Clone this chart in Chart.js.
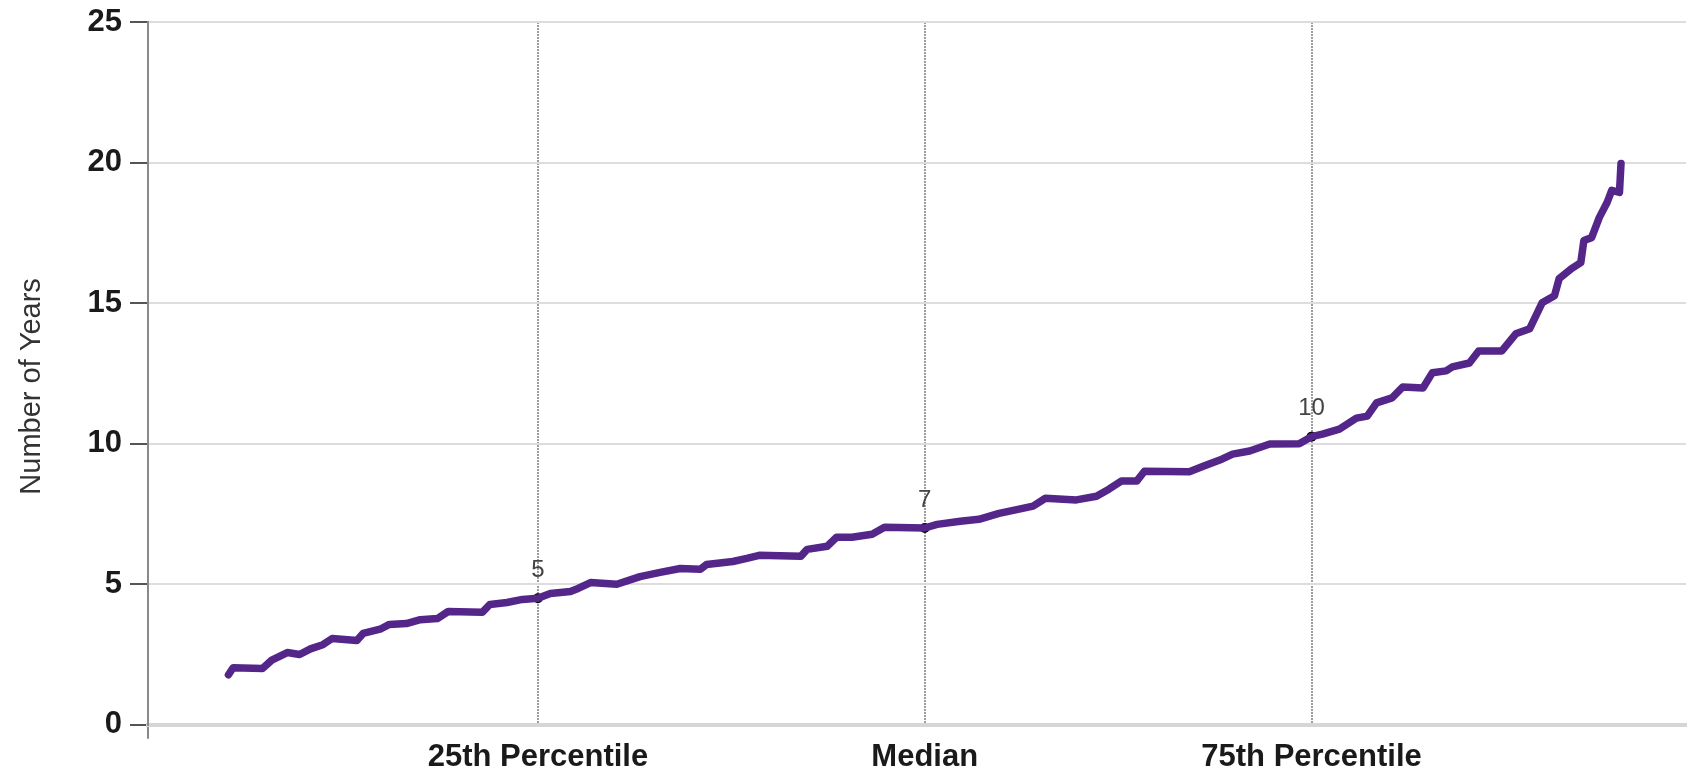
<!DOCTYPE html>
<html>
<head>
<meta charset="utf-8">
<script src="https://cdn.jsdelivr.net/npm/chart.js@4.4.1/dist/chart.umd.min.js"></script>
<style>
  html, body { margin: 0; padding: 0; background: #ffffff; }
  canvas { display: block; }
</style>
</head>
<body>
<canvas id="c" width="1691" height="775"></canvas>
<script>
// Percentile rank (x) and number of years (y)
const pctRank = [5.0, 5.3, 7.2, 7.8, 8.8, 9.6, 10.3, 11.1, 11.7, 13.3, 13.7, 14.8, 15.4, 16.5, 17.4, 18.5, 19.2, 21.4, 21.9, 23.0, 24.0, 25.0,
  25.8, 27.1, 27.6, 28.4, 30.1, 31.6, 32.9, 34.2, 35.5, 35.9, 37.6, 38.5, 39.3, 42.0, 42.4, 43.7, 44.3, 45.3, 46.6, 47.4, 50.0,
  50.8, 52.3, 53.5, 54.8, 56.1, 57.0, 57.8, 59.8, 61.1, 61.9, 62.7, 63.7, 64.2, 67.1, 68.0, 69.2, 69.9, 71.0, 72.3, 74.2, 75.0,
  75.7, 76.8, 77.9, 78.6, 79.2, 80.2, 80.9, 82.2, 82.8, 83.7, 84.1, 85.2, 85.8, 87.3, 88.2, 89.1, 89.9, 90.7, 91.0, 91.8, 92.4,
  92.6, 93.1, 93.6, 94.1, 94.4, 94.9, 95.0];
const years = [1.78, 2.03, 2.0, 2.3, 2.57, 2.5, 2.7, 2.85, 3.07, 3.0, 3.25, 3.4, 3.57, 3.6, 3.74, 3.78, 4.03, 4.0, 4.28, 4.35, 4.46, 4.5,
  4.67, 4.74, 4.85, 5.06, 5.0, 5.27, 5.42, 5.56, 5.53, 5.7, 5.81, 5.92, 6.03, 6.0, 6.24, 6.35, 6.67, 6.67, 6.78, 7.03, 7.0,
  7.13, 7.24, 7.31, 7.52, 7.67, 7.78, 8.06, 8.0, 8.13, 8.38, 8.67, 8.67, 9.02, 9.0, 9.2, 9.45, 9.63, 9.74, 9.99, 10.0, 10.25,
  10.34, 10.52, 10.91, 10.98, 11.45, 11.63, 12.02, 11.98, 12.52, 12.59, 12.73, 12.87, 13.3, 13.3, 13.91, 14.09, 15.01, 15.26, 15.87, 16.23, 16.44,
  17.23, 17.33, 18.05, 18.58, 19.01, 18.94, 19.97];

const markerPct = [25, 50, 75];
const markerYears = [4.5, 7, 10.25];
const markerLabels = ['5', '7', '10'];

const xMin = -0.2;
const xMax = 99.2;
const xTickValues = [xMin, 25, 50, 75];
const xTickLabels = ['', '25th Percentile', 'Median', '75th Percentile'];
const yTickValues = [0, 5, 10, 15, 20, 25];
const yTitle = 'Number of Years';

const FONT = "'Liberation Sans', Arial, sans-serif";

const labelPlugin = {
  id: 'markerLabels',
  afterDatasetsDraw(chart) {
    const meta = chart.getDatasetMeta(1);
    const ctx = chart.ctx;
    ctx.save();
    ctx.font = "24px " + FONT;
    ctx.fillStyle = '#444444';
    ctx.textAlign = 'center';
    ctx.textBaseline = 'middle';
    meta.data.forEach((el, i) => {
      ctx.fillText(markerLabels[i], el.x, el.y - 28);
    });
    ctx.restore();
  },
  afterDraw(chart) {
    // y-axis title
    const ctx = chart.ctx;
    const area = chart.chartArea;
    ctx.save();
    ctx.font = "29px " + FONT;
    ctx.fillStyle = '#333333';
    ctx.textAlign = 'center';
    ctx.textBaseline = 'middle';
    ctx.translate(32, (area.top + area.bottom) / 2 + 13);
    ctx.rotate(-Math.PI / 2);
    ctx.fillText(yTitle, 0, 0);
    ctx.restore();
  }
};

new Chart(document.getElementById('c'), {
  type: 'line',
  data: {
    datasets: [
      {
        data: pctRank.map((p, i) => ({ x: p, y: years[i] })),
        borderColor: '#55268a',
        borderWidth: 7.5,
        pointRadius: 0,
        tension: 0,
        borderJoinStyle: 'round',
        borderCapStyle: 'round',
        fill: false
      },
      {
        data: markerPct.map((p, i) => ({ x: p, y: markerYears[i] })),
        showLine: false,
        pointRadius: 5,
        pointBackgroundColor: '#000000',
        pointBorderWidth: 0
      }
    ]
  },
  options: {
    responsive: false,
    animation: false,
    devicePixelRatio: 1,
    layout: { padding: { left: 0, right: 0, top: 0, bottom: -1 } },
    plugins: { legend: { display: false }, tooltip: { enabled: false } },
    scales: {
      x: {
        type: 'linear',
        min: xMin,
        max: xMax,
        afterBuildTicks(scale) { scale.ticks = xTickValues.map(v => ({ value: v })); },
        ticks: {
          autoSkip: false,
          maxRotation: 0,
          padding: 0,
          color: '#1a1a1a',
          font: { family: FONT, size: 31, weight: 'bold' },
          callback(value) { const i = xTickValues.indexOf(value); return i >= 0 ? xTickLabels[i] : ''; }
        },
        grid: {
          color: (c) => (c.tick && c.tick.value === xMin) ? 'rgba(0,0,0,0)' : '#9c9c9c',
          lineWidth: 2,
          tickLength: 14,
          tickWidth: 2,
          tickColor: (c) => (c.tick && c.tick.value === xMin) ? '#888888' : 'rgba(0,0,0,0)'
        },
        border: { display: true, color: '#d6d6d6', width: 4, dash: [2, 1] }
      },
      y: {
        min: 0,
        max: 25,
        afterBuildTicks(scale) { scale.ticks = yTickValues.map(v => ({ value: v })); },
        afterFit(scale) { scale.width = 148; scale.paddingTop = 22; },
        ticks: {
          padding: 8,
          color: '#1a1a1a',
          font: { family: FONT, size: 31, weight: 'bold', lineHeight: 1.0 }
        },
        grid: {
          color: '#dddddd',
          lineWidth: 2,
          tickLength: 18,
          tickWidth: 2,
          tickColor: '#555555'
        },
        border: { display: true, color: '#8a8a8a', width: 2 }
      }
    }
  },
  plugins: [labelPlugin]
});
</script>
</body>
</html>
